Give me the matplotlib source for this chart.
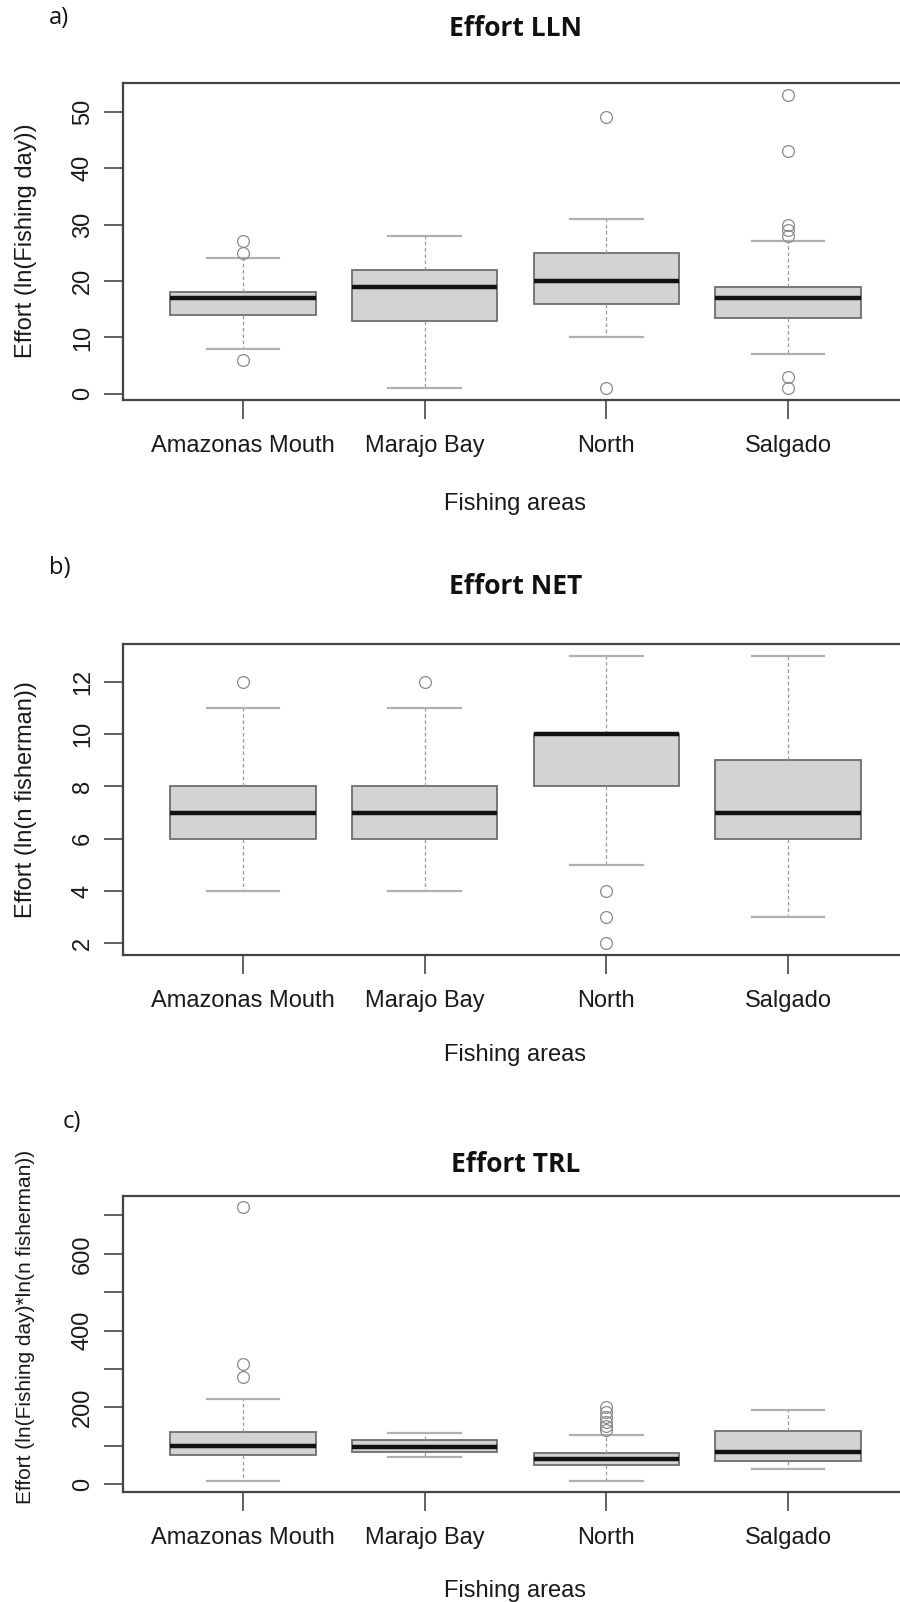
"""Fishing effort by area for the three gear types (LLN, NET, TRL)."""

import matplotlib
matplotlib.use("Agg")
import matplotlib.pyplot as plt

W, H = 900, 1602

areas = ["Amazonas Mouth", "Marajo Bay", "North", "Salgado"]

# boxplot summaries: (whisker low, Q1, median, Q3, whisker high)
lln_stats = [(8, 14, 17, 18, 24), (1, 13, 19, 22, 28),
             (10, 16, 20, 25, 31), (7, 13.5, 17, 19, 27)]
lln_out = [[6, 25, 27], [], [1, 49], [1, 3, 28, 29, 30, 43, 53]]

net_stats = [(4, 6, 7, 8, 11), (4, 6, 7, 8, 11),
             (5, 8, 10, 10, 13), (3, 6, 7, 9, 13)]
net_out = [[12], [12], [2, 3, 4], []]

trl_stats = [(8, 76, 98, 135, 222), (70, 83, 97, 116, 132),
             (8, 49, 65, 80, 127), (40, 61, 83, 139, 194)]
trl_out = [[279, 312, 722], [], [140, 152, 163, 175, 188, 200], []]

panels = [
    dict(tag="a)", title="Effort LLN", stats=lln_stats, out=lln_out,
         ylabel="Effort (ln(Fishing day))", ylsize=17,
         ticks=list(range(0, 51, 10)), labels=None),
    dict(tag="b)", title="Effort NET", stats=net_stats, out=net_out,
         ylabel="Effort (ln(n fisherman))", ylsize=17,
         ticks=list(range(2, 13, 2)), labels=None),
    dict(tag="c)", title="Effort TRL", stats=trl_stats, out=trl_out,
         ylabel="Effort (ln(Fishing day)*ln(n fisherman))", ylsize=15,
         ticks=list(range(0, 701, 100)),
         labels=["0", "", "200", "", "400", "", "600", ""]),
]

# pixel layout: axes top/bottom, title y, tag position, xlabel y, ylabel y
layout = [
    dict(top=83, bottom=400, title_y=28, tag=(49, 18), xl_y=504, yl_y=241),
    dict(top=644, bottom=955, title_y=586, tag=(49, 568), xl_y=1055, yl_y=800),
    dict(top=1196, bottom=1492, title_y=1165, tag=(63, 1122), xl_y=1591, yl_y=1327),
]
AX_L, AX_R = 123, 908

axis_font = "Liberation Sans"
head_font = "Open Sans"

fig = plt.figure(figsize=(W / 100, H / 100), dpi=100)
fig.patch.set_facecolor("white")


def fx(px):
    return px / W


def fy(py):
    return 1 - py / H


for p, lay in zip(panels, layout):
    ax = fig.add_axes([fx(AX_L), fy(lay["bottom"]),
                       (AX_R - AX_L) / W, (lay["bottom"] - lay["top"]) / H])
    bxp_stats = []
    for (lo, q1, med, q3, hi), fl in zip(p["stats"], p["out"]):
        bxp_stats.append(dict(whislo=lo, q1=q1, med=med, q3=q3, whishi=hi,
                              fliers=fl))
    ax.bxp(bxp_stats, positions=[1, 2, 3, 4], widths=0.8, patch_artist=True,
           showfliers=True,
           boxprops=dict(facecolor="#d3d3d3", edgecolor="#6e6e6e", linewidth=1.3),
           medianprops=dict(color="#111111", linewidth=3.2, solid_capstyle="butt"),
           whiskerprops=dict(color="#9a9a9a", linewidth=0.9, linestyle=(0, (3, 2))),
           capprops=dict(color="#b0b0b0", linewidth=1.6),
           capwidths=0.4,
           flierprops=dict(marker="o", markerfacecolor="none",
                           markeredgecolor="#8a8a8a", markersize=8.5,
                           markeredgewidth=0.9))

    # R-style 4% padding on both axes
    vals = [v for s in p["stats"] for v in s] + [v for o in p["out"] for v in o]
    lo, hi = min(vals), max(vals)
    pad = (hi - lo) * 0.04
    ax.set_ylim(lo - pad, hi + pad)
    ax.set_xlim(0.5 - 0.16, 4.5 + 0.16)

    ax.set_xticks([1, 2, 3, 4])
    ax.set_xticklabels(areas, fontsize=17, family=axis_font, va="baseline")
    ax.set_yticks(p["ticks"])
    ax.set_yticklabels(p["labels"] if p["labels"] else [str(t) for t in p["ticks"]],
                       fontsize=17, family=axis_font, rotation=90, va="center")
    ax.tick_params(axis="both", direction="out", length=14, width=1.3,
                   color="#555555", labelcolor="#1a1a1a")
    ax.tick_params(axis="x", pad=23.5)
    ax.tick_params(axis="y", pad=7)
    for side in ["top", "bottom", "left", "right"]:
        ax.spines[side].set_color("#444444")
        ax.spines[side].set_linewidth(1.6)

    mid_x = (AX_L + AX_R) / 2
    fig.text(fx(mid_x), fy(lay["title_y"]), p["title"], ha="center", va="center",
             fontsize=19, fontweight="bold", family=head_font, color="#111111")
    fig.text(fx(lay["tag"][0]), fy(lay["tag"][1]), p["tag"], ha="left", va="center",
             fontsize=17, family=head_font, color="#111111")
    fig.text(fx(mid_x), fy(lay["xl_y"]), "Fishing areas", ha="center", va="center",
             fontsize=17, family=axis_font, color="#1a1a1a")
    fig.text(fx(26), fy(lay["yl_y"]), p["ylabel"], ha="center", va="center",
             rotation=90, fontsize=p["ylsize"], family=axis_font, color="#1a1a1a")

fig.savefig("out.png", dpi=100, facecolor="white")
